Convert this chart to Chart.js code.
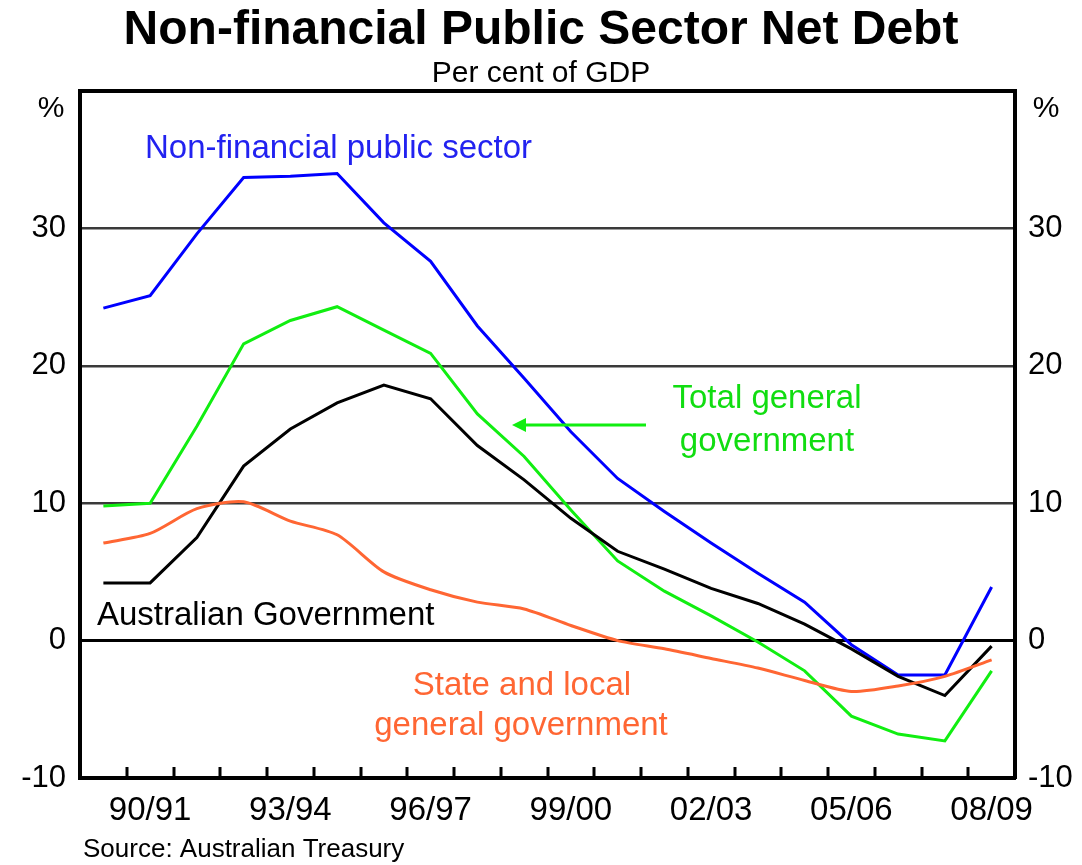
<!DOCTYPE html>
<html>
<head>
<meta charset="utf-8">
<script src="https://cdn.jsdelivr.net/npm/chart.js@4.4.1/dist/chart.umd.min.js"></script>
<style>
html,body{margin:0;padding:0;background:#fff;}
#wrap{position:relative;width:1082px;height:865px;}
</style>
</head>
<body>
<div id="wrap"><canvas id="c"></canvas></div>
<script>
const categories = ['89/90','90/91','91/92','92/93','93/94','94/95','95/96','96/97','97/98','98/99',
  '99/00','00/01','01/02','02/03','03/04','04/05','05/06','06/07','07/08','08/09'];
const nonFinancialPublicSector = [24.2, 25.1, 29.6, 33.7, 33.8, 34.0, 30.4, 27.6, 22.9, 19.1,
  15.2, 11.8, 9.4, 7.1, 4.9, 2.8, -0.3, -2.5, -2.5, 3.9];
const totalGeneralGovernment = [9.8, 10.0, 15.6, 21.6, 23.3, 24.3, 22.6, 20.9, 16.5, 13.4,
  9.5, 5.8, 3.6, 1.8, -0.1, -2.2, -5.5, -6.8, -7.3, -2.2];
const australianGovernment = [4.2, 4.2, 7.5, 12.7, 15.4, 17.3, 18.6, 17.6, 14.2, 11.7,
  8.9, 6.5, 5.2, 3.8, 2.7, 1.2, -0.6, -2.6, -4.0, -0.4];
const stateAndLocal = [7.1, 7.8, 9.6, 10.1, 8.7, 7.7, 5.0, 3.7, 2.8, 2.3,
  1.1, 0.0, -0.6, -1.3, -2.0, -2.9, -3.7, -3.3, -2.6, -1.4];
const yTickValues = [-10, 0, 10, 20, 30];
const xLabelEvery = 3;

const FONT = "'Liberation Sans', Arial, sans-serif";

const annotate = {
  id: 'annotate',
  afterDraw(chart) {
    const ctx = chart.ctx, xs = chart.scales.x, ca = chart.chartArea;
    ctx.save();
    ctx.strokeStyle = '#000'; ctx.lineWidth = 3;
    ctx.beginPath();
    for (let i = 1; i < categories.length; i++) {
      const x = Math.round((xs.getPixelForValue(i - 1) + xs.getPixelForValue(i)) / 2);
      ctx.moveTo(x, ca.bottom); ctx.lineTo(x, ca.bottom - 11);
    }
    ctx.stroke();

    ctx.textBaseline = 'alphabetic';
    ctx.fillStyle = '#000'; ctx.font = '30px ' + FONT; ctx.textAlign = 'center';
    ctx.fillText('%', 51, 117);
    ctx.fillText('%', 1046, 117);

    ctx.font = '33px ' + FONT;
    ctx.textAlign = 'left';
    ctx.fillStyle = '#2222f0';
    ctx.fillText('Non-financial public sector', 145, 158);
    ctx.fillStyle = '#000';
    ctx.fillText('Australian Government', 97, 625);
    ctx.textAlign = 'center';
    ctx.fillStyle = '#11dd11';
    ctx.fillText('Total general', 767, 408);
    ctx.fillText('government', 767, 451);
    ctx.fillStyle = '#ff6633';
    ctx.fillText('State and local', 522, 695);
    ctx.fillText('general government', 521, 735);

    ctx.strokeStyle = '#11ee11'; ctx.fillStyle = '#11ee11'; ctx.lineWidth = 3;
    ctx.beginPath(); ctx.moveTo(646, 425); ctx.lineTo(522, 425); ctx.stroke();
    ctx.beginPath(); ctx.moveTo(512, 425); ctx.lineTo(526, 418); ctx.lineTo(526, 432); ctx.closePath(); ctx.fill();

    ctx.textAlign = 'left'; ctx.fillStyle = '#000'; ctx.font = '26px ' + FONT;
    ctx.fillText('Source: Australian Treasury', 83, 857);
    ctx.restore();
  }
};

const gridColor = (c) => {
  const v = c.tick ? c.tick.value : null;
  return (v === 0 || v === 40 || v === -10) ? '#000' : '#3a3a3a';
};
const gridWidth = (c) => {
  const v = c.tick ? c.tick.value : null;
  return (v === 40 || v === -10) ? 4 : (v === 0 ? 3 : 2.5);
};
const yTickCb = (v) => yTickValues.includes(v) ? String(v) : '';

new Chart(document.getElementById('c'), {
  type: 'line',
  data: {
    labels: categories,
    datasets: [
      { label: 'State and local general government', data: stateAndLocal, borderColor: '#ff6633', borderWidth: 3, tension: 0.25, pointRadius: 0 },
      { label: 'Australian Government', data: australianGovernment, borderColor: '#000000', borderWidth: 3, tension: 0, pointRadius: 0 },
      { label: 'Total general government', data: totalGeneralGovernment, borderColor: '#11ee11', borderWidth: 3, tension: 0, pointRadius: 0 },
      { label: 'Non-financial public sector', data: nonFinancialPublicSector, borderColor: '#0000ff', borderWidth: 3, tension: 0, pointRadius: 0 }
    ]
  },
  options: {
    responsive: true,
    maintainAspectRatio: false,
    animation: false,
    devicePixelRatio: 1,
    layout: { padding: 0 },
    plugins: {
      legend: { display: false },
      tooltip: { enabled: false },
      title: {
        display: true, text: 'Non-financial Public Sector Net Debt', color: '#000',
        font: { family: FONT, size: 48, weight: 'bold', lineHeight: 1.0 },
        padding: { top: 7, bottom: 0 }
      },
      subtitle: {
        display: true, text: 'Per cent of GDP', color: '#000',
        font: { family: FONT, size: 30, lineHeight: 1.0 },
        padding: { top: 4, bottom: 2 }
      }
    },
    scales: {
      x: {
        type: 'category',
        offset: true,
        afterFit: (s) => { s.height = 87; },
        grid: { display: true, drawOnChartArea: false, drawTicks: false },
        border: { display: true, color: '#000', width: 4 },
        ticks: {
          autoSkip: false, maxRotation: 0, minRotation: 0, padding: 13,
          color: '#000', font: { family: FONT, size: 33 },
          callback: (v, i) => (i % xLabelEvery === 1 ? categories[i] : '')
        }
      },
      y: {
        position: 'left', min: -10, max: 40,
        afterFit: (s) => { s.width = 80; },
        grid: { color: gridColor, lineWidth: gridWidth, drawTicks: false },
        border: { display: true, color: '#000', width: 4 },
        ticks: { stepSize: 10, padding: 14, color: '#000', font: { family: FONT, size: 31 }, callback: yTickCb }
      },
      y2: {
        position: 'right', min: -10, max: 40,
        afterFit: (s) => { s.width = 67; },
        grid: { drawOnChartArea: false, drawTicks: false },
        border: { display: true, color: '#000', width: 4 },
        ticks: { stepSize: 10, padding: 13, color: '#000', font: { family: FONT, size: 31 }, callback: yTickCb }
      }
    }
  },
  plugins: [annotate]
});
</script>
</body>
</html>
